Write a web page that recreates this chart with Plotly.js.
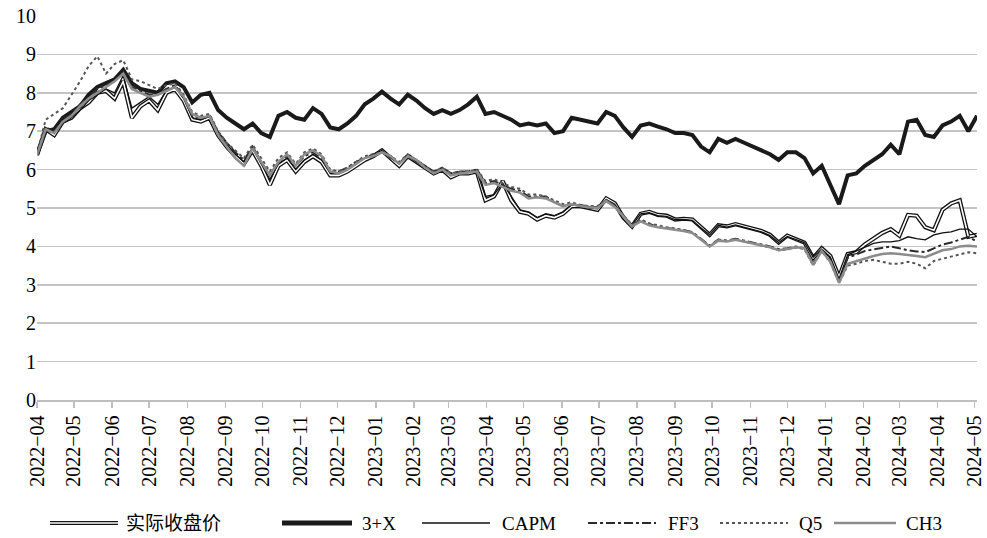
<!DOCTYPE html>
<html>
<head>
<meta charset="utf-8">
<script src="https://cdn.plot.ly/plotly-3.0.1.min.js"></script>
<style>
  html, body { margin: 0; padding: 0; background: #ffffff; }
  #chart { width: 987px; height: 538px; }
</style>
</head>
<body>
<div id="chart"></div>
<script>
// Weekly observation dates starting 2022-04-01 (110 weeks)
const startDate = '2022-04-01';
const weekCount = 110;
const dates = [];
for (let i = 0; i < weekCount; i++) {
  const d = new Date(Date.parse(startDate + 'T00:00:00Z') + i * 7 * 86400000);
  dates.push(d.toISOString().slice(0, 10));
}

const seriesNames = ['实际收盘价', '3+X', 'CAPM', 'FF3', 'Q5', 'CH3'];

const actual = [
  6.38, 7.05, 6.9, 7.25, 7.35, 7.6, 7.75, 8.0, 8.05, 7.85,
  8.3, 7.35, 7.65, 7.8, 7.55, 8.0, 8.1, 7.8, 7.3, 7.25,
  7.35, 6.9, 6.6, 6.35, 6.15, 6.5, 6.1, 5.6, 6.1, 6.25,
  5.95, 6.2, 6.35, 6.2, 5.85, 5.85, 5.95, 6.1, 6.25, 6.35,
  6.5, 6.3, 6.1, 6.35, 6.2, 6.05, 5.9, 6.0, 5.8, 5.9,
  5.9, 5.95, 5.2, 5.3, 5.7, 5.2, 4.9, 4.85, 4.7, 4.8,
  4.75, 4.85, 5.05, 5.05, 5.0, 4.95, 5.25, 5.12, 4.75, 4.52,
  4.85, 4.9, 4.82, 4.8, 4.7, 4.72, 4.7, 4.5, 4.3, 4.55,
  4.52, 4.58, 4.52, 4.47, 4.4, 4.3, 4.1, 4.28, 4.2, 4.1,
  3.7, 3.95, 3.75, 3.2, 3.8, 3.85, 4.05, 4.2, 4.35, 4.45,
  4.28, 4.82, 4.8, 4.5, 4.42, 4.95, 5.12, 5.2, 4.25, 4.3
];

const model3X = [
  6.4, 7.0, 7.05, 7.35, 7.5, 7.65, 7.95, 8.15, 8.25, 8.35,
  8.6, 8.25, 8.1, 8.05, 8.0, 8.25, 8.3, 8.15, 7.75, 7.95,
  8.0, 7.55, 7.35, 7.2, 7.05, 7.2, 6.95, 6.85, 7.4, 7.5,
  7.35, 7.3, 7.6, 7.45, 7.1, 7.05, 7.2, 7.4, 7.7, 7.85,
  8.03, 7.85, 7.7, 7.95, 7.8, 7.6, 7.45, 7.55, 7.45, 7.55,
  7.7, 7.9, 7.45, 7.5, 7.4, 7.3, 7.15, 7.2, 7.15, 7.2,
  6.95, 7.0, 7.35, 7.3, 7.25, 7.2, 7.5, 7.4, 7.1, 6.85,
  7.15, 7.2, 7.12, 7.05, 6.95, 6.95, 6.9, 6.6, 6.45, 6.8,
  6.7, 6.8, 6.7, 6.6, 6.5, 6.4, 6.25, 6.45, 6.45, 6.3,
  5.9, 6.1, 5.6, 5.1, 5.85, 5.9, 6.1, 6.25, 6.4, 6.65,
  6.4, 7.25, 7.3, 6.9, 6.85, 7.15, 7.25, 7.4, 7.0, 7.4
];

const capm = [
  6.38, 7.05, 6.95, 7.2, 7.35, 7.55, 7.8, 7.95, 8.1, 8.0,
  8.45, 7.6, 7.75, 7.9, 7.7, 8.05, 8.15, 7.85, 7.35, 7.3,
  7.38, 6.92, 6.65, 6.4, 6.2, 6.55, 6.15, 5.75, 6.15, 6.3,
  6.0, 6.25, 6.4, 6.25, 5.9, 5.9, 6.0, 6.15, 6.3, 6.4,
  6.5, 6.3, 6.15, 6.35, 6.2, 6.05, 5.9, 6.0, 5.85, 5.9,
  5.92, 5.95, 5.3, 5.35, 5.65, 5.3, 4.95, 4.9, 4.75, 4.85,
  4.8, 4.9, 5.08, 5.05, 5.0, 4.98, 5.22, 5.1, 4.75, 4.55,
  4.85, 4.88, 4.8, 4.78, 4.7, 4.7, 4.68, 4.48, 4.3, 4.55,
  4.5, 4.56, 4.5, 4.45, 4.38, 4.28, 4.1, 4.26, 4.18, 4.1,
  3.72, 3.93, 3.72, 3.15, 3.78, 3.88, 4.0, 4.08, 4.12, 4.12,
  4.15, 4.25, 4.2, 4.17, 4.3, 4.35, 4.38, 4.45, 4.45, 4.25
];

const ff3 = [
  6.4, 7.1, 7.0, 7.3, 7.45, 7.7, 7.9, 8.1, 8.2, 8.3,
  8.55, 8.15, 8.05, 7.95, 7.95, 8.1, 8.2, 7.9, 7.4, 7.35,
  7.4, 6.97, 6.7, 6.45, 6.25, 6.6, 6.2, 5.85, 6.2, 6.35,
  6.1, 6.35, 6.45, 6.3, 5.95, 5.95, 6.05, 6.2, 6.3, 6.4,
  6.45, 6.35, 6.15, 6.4, 6.25, 6.1, 5.95, 6.05, 5.9, 5.95,
  5.95, 6.0, 5.65, 5.7, 5.6, 5.5, 5.45, 5.3, 5.3, 5.3,
  5.15, 5.05, 5.12, 5.05, 5.03, 5.02, 5.2, 5.05, 4.8, 4.55,
  4.68, 4.58, 4.5, 4.48, 4.45, 4.42, 4.37, 4.2, 4.02, 4.18,
  4.15, 4.2, 4.15, 4.1, 4.05, 4.0, 3.93, 3.95, 4.0, 3.95,
  3.55, 3.9, 3.6, 3.1, 3.7, 3.8, 3.88, 3.92, 3.97, 4.0,
  3.95, 3.9, 3.87, 3.85, 3.95, 4.05, 4.1, 4.18, 4.25, 4.12
];

const q5 = [
  6.4, 7.3, 7.45, 7.6, 7.95, 8.3, 8.7, 8.95, 8.5, 8.75,
  8.85, 8.35, 8.3, 8.2, 8.1, 8.2, 8.25, 7.95, 7.5, 7.4,
  7.45, 7.0, 6.7, 6.5, 6.3, 6.65, 6.3, 5.95, 6.3, 6.45,
  6.15, 6.45, 6.55, 6.4, 6.0, 5.95, 6.05, 6.2, 6.35, 6.4,
  6.45, 6.35, 6.2, 6.4, 6.25, 6.1, 5.95, 6.05, 5.9, 5.95,
  5.95, 6.0, 5.7, 5.75, 5.65, 5.55, 5.5, 5.35, 5.35, 5.3,
  5.2, 5.1, 5.15, 5.08, 5.05, 5.05, 5.2, 5.05, 4.8, 4.55,
  4.7, 4.6, 4.55, 4.5, 4.47, 4.42, 4.37, 4.2, 4.0, 4.17,
  4.15, 4.18, 4.13, 4.08, 4.02, 3.97, 3.9, 3.92, 3.97, 3.93,
  3.5, 3.88, 3.58, 3.05, 3.5, 3.55, 3.62, 3.65, 3.6, 3.55,
  3.55, 3.6, 3.55, 3.43, 3.62, 3.68, 3.73, 3.8, 3.85, 3.82
];

const ch3 = [
  6.38, 7.05, 6.95, 7.25, 7.4, 7.65, 7.85, 8.0, 8.15, 8.3,
  8.5, 8.1, 8.0, 7.9, 7.95, 8.05, 8.15, 7.9, 7.45, 7.35,
  7.4, 6.9, 6.6, 6.3, 6.1, 6.55, 6.2, 5.85, 6.2, 6.4,
  6.1, 6.4, 6.5, 6.35, 5.95, 5.9, 6.0, 6.15, 6.3, 6.35,
  6.45, 6.35, 6.15, 6.35, 6.25, 6.05, 5.9, 6.0, 5.85, 5.9,
  5.92, 5.95, 5.6, 5.65, 5.55, 5.45, 5.4, 5.25, 5.28, 5.25,
  5.15, 5.05, 5.1, 5.05, 5.02, 5.0, 5.18, 5.03, 4.78, 4.52,
  4.65, 4.55, 4.5, 4.47, 4.43, 4.4, 4.35, 4.18, 4.0, 4.15,
  4.13, 4.17, 4.12, 4.08, 4.03, 3.98, 3.9, 3.93, 3.98, 3.95,
  3.52, 3.88, 3.6, 3.05, 3.55, 3.62, 3.7, 3.75, 3.8, 3.82,
  3.8, 3.78, 3.75, 3.72, 3.82, 3.9, 3.93, 4.0, 4.02, 4.0
];

const yTickValues = [0, 1, 2, 3, 4, 5, 6, 7, 8, 9, 10];

const serif = '"Liberation Serif", "Times New Roman", "Noto Sans CJK SC", serif';

const traces = [
  { x: dates, y: actual, mode: 'lines', name: seriesNames[0], line: { color: '#111111', width: 4.2 }, showlegend: false, hoverinfo: 'skip' },
  { x: dates, y: actual, mode: 'lines', name: seriesNames[0], line: { color: '#ffffff', width: 1.6 }, showlegend: false },
  { x: dates, y: model3X, mode: 'lines', name: seriesNames[1], line: { color: '#1a1a1a', width: 4 }, showlegend: false },
  { x: dates, y: capm, mode: 'lines', name: seriesNames[2], line: { color: '#111111', width: 1.3 }, showlegend: false },
  { x: dates, y: ff3, mode: 'lines', name: seriesNames[3], line: { color: '#2a2a2a', width: 2, dash: 'dashdot' }, showlegend: false },
  { x: dates, y: q5, mode: 'lines', name: seriesNames[4], line: { color: '#555555', width: 2, dash: 'dot' }, showlegend: false },
  { x: dates, y: ch3, mode: 'lines', name: seriesNames[5], line: { color: '#8c8c8c', width: 2.5 }, showlegend: false }
];

// Manual legend (pixel positions converted to paper coords)
const plotL = 37, plotR = 977, plotT = 16, plotB = 400;
const px = v => (v - plotL) / (plotR - plotL);
const py = v => (plotB - v) / (plotB - plotT);
const legendY = 523;
const legendItems = [
  { x0: 50, x1: 118, tx: 124, styles: [{ color: '#111111', width: 4.2 }, { color: '#ffffff', width: 1.6 }] },
  { x0: 282, x1: 352, tx: 360, styles: [{ color: '#1a1a1a', width: 5 }] },
  { x0: 422, x1: 490, tx: 500, styles: [{ color: '#111111', width: 1.3 }] },
  { x0: 588, x1: 656, tx: 666, styles: [{ color: '#2a2a2a', width: 2, dash: 'dashdot' }] },
  { x0: 720, x1: 788, tx: 797, styles: [{ color: '#555555', width: 2, dash: 'dot' }] },
  { x0: 834, x1: 896, tx: 904, styles: [{ color: '#8c8c8c', width: 2.5 }] }
];
const shapes = [];
const annotations = [];
legendItems.forEach((it, k) => {
  it.styles.forEach(st => {
    shapes.push({ type: 'line', xref: 'paper', yref: 'paper', x0: px(it.x0), x1: px(it.x1), y0: py(legendY), y1: py(legendY), line: st });
  });
  annotations.push({ xref: 'paper', yref: 'paper', x: px(it.tx), y: py(legendY), xanchor: 'left', yanchor: 'middle', showarrow: false, text: seriesNames[k], font: { family: serif, size: 19, color: '#000000' } });
});

const layout = {
  width: 987,
  height: 538,
  margin: { l: plotL, r: 987 - plotR, t: plotT, b: 538 - plotB },
  paper_bgcolor: '#ffffff',
  plot_bgcolor: '#ffffff',
  showlegend: false,
  xaxis: {
    type: 'date',
    range: ['2022-04-01', '2024-05-03'],
    dtick: 'M1',
    tick0: '2022-04-01',
    tickformat: '%Y\u2212%m',
    tickangle: -90,
    ticks: 'outside',
    ticklen: 6,
    tickcolor: '#bfbfbf',
    tickwidth: 1.5,
    showgrid: false,
    showline: true,
    linecolor: '#bfbfbf',
    linewidth: 1.5,
    zeroline: false,
    tickfont: { family: serif, size: 20, color: '#000000' }
  },
  yaxis: {
    range: [0, 10],
    tickvals: yTickValues,
    ticktext: yTickValues.map(String),
    showgrid: true,
    gridcolor: '#c4c4c4',
    gridwidth: 1.6,
    zeroline: false,
    showline: false,
    ticks: '',
    tickfont: { family: serif, size: 20, color: '#000000' }
  },
  shapes: shapes,
  annotations: annotations
};

Plotly.newPlot('chart', traces, layout, { displayModeBar: false, staticPlot: true });
</script>
</body>
</html>
